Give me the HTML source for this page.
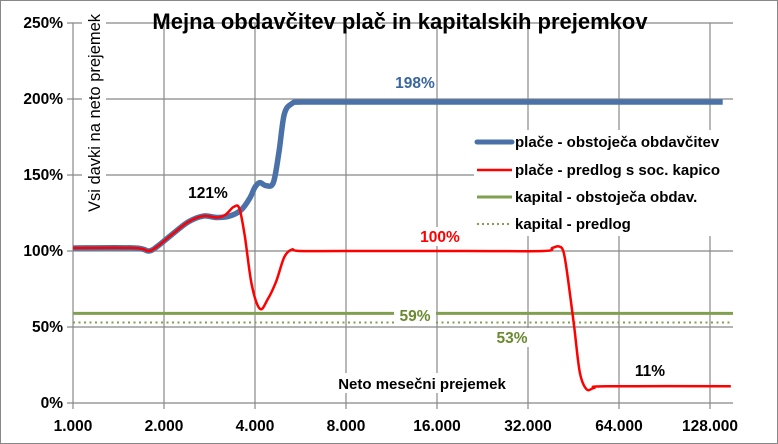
<!DOCTYPE html>
<html><head><meta charset="utf-8"><style>
body{margin:0;background:#fff;}
svg{display:block;font-family:"Liberation Sans",Arial,sans-serif;font-weight:bold;}
</style></head><body>
<svg width="778" height="444" viewBox="0 0 778 444">
<rect x="0.5" y="0.5" width="777" height="443" fill="#fff" stroke="#888"/>
<g id="grid"></g>
<g id="series"></g>
<g id="labels"></g>
<text x="400" y="29" text-anchor="middle" font-size="22" fill="#000">Mejna obdavčitev plač in kapitalskih prejemkov</text>
<rect x="82" y="6" width="24" height="214" fill="#fff"/>
<text transform="translate(100,113) rotate(-90)" text-anchor="middle" font-size="16.5" font-weight="normal" fill="#000">Vsi davki na neto prejemek</text>
<rect x="326" y="373" width="192" height="20" fill="#fff"/>
<text x="422" y="389" text-anchor="middle" font-size="15" fill="#000">Neto mesečni prejemek</text>
<g>
<rect x="474" y="130" width="298" height="106" fill="#fff"/>
<line x1="477" y1="142" x2="512" y2="142" stroke="#4a72a8" stroke-width="5" stroke-linecap="round"/>
<text x="515" y="147" font-size="15">plače - obstoječa obdavčitev</text>
<line x1="477" y1="170" x2="512" y2="170" stroke="#f00" stroke-width="2.5"/>
<text x="515" y="175" font-size="15">plače - predlog s soc. kapico</text>
<line x1="477" y1="197" x2="512" y2="197" stroke="#80a050" stroke-width="3"/>
<text x="515" y="202" font-size="15">kapital - obstoječa obdav.</text>
<line x1="477" y1="224" x2="512" y2="224" stroke="#80a050" stroke-width="2" stroke-dasharray="2,3"/>
<text x="515" y="229" font-size="15">kapital - predlog</text>
</g>
</svg>
<script>
const xTicks=[1000,2000,4000,8000,16000,32000,64000,128000];
const xTickLabels=["1.000","2.000","4.000","8.000","16.000","32.000","64.000","128.000"];
const yTicks=[0,50,100,150,200,250];
const yTickLabels=["0%","50%","100%","150%","200%","250%"];
const blueX=[1000,1600,1780,1900,2100,2400,2700,3000,3300,3600,3850,4000,4150,4350,4600,4800,5000,5300,5700,8000,32000,141000];
const blueY=[102,102,100,103,110,119,123,122,123,127,135,142,145,143,145,165,190,197,198,198,198,198];
const redX=[1000,1600,1780,1900,2100,2400,2700,3000,3200,3400,3550,3700,3900,4150,4400,4700,5000,5300,5600,8000,20000,36000,38500,40500,42000,43500,45500,47500,50000,53000,58000,150000];
const redY=[102,102,100,103,110,119,123,122,124,129,128,110,78,62,68,80,96,101,100,100,100,100,102,103,99,80,50,20,9,10,11,11];
const kapObst=[59], kapPredlog=[53];
const ns="http://www.w3.org/2000/svg";
const L=73,R=733,T=23,B=403,pxOct=91;
const xs=v=>L+Math.log2(v/1000)*pxOct;
const ys=v=>B-v*(B-T)/250;
function mk(tag,attrs,parent){const e=document.createElementNS(ns,tag);for(const k in attrs)e.setAttribute(k,attrs[k]);parent.appendChild(e);return e;}
const grid=document.getElementById('grid'),ser=document.getElementById('series'),lab=document.getElementById('labels');
yTicks.forEach((t,i)=>{
 const g=mk('line',{x1:L-6,x2:R,y1:ys(t),y2:ys(t),stroke:'#888','stroke-width':1.2},grid);
 
 
 const tx=mk('text',{x:L-10,y:ys(t)+5,'text-anchor':'end','font-size':15.5},grid);tx.textContent=yTickLabels[i];
 
 
});
xTicks.forEach((t,i)=>{
 const g=mk('line',{x1:xs(t),x2:xs(t),y1:T,y2:B+6,stroke:'#888','stroke-width':1.2},grid);
 
 
 const tx=mk('text',{x:xs(t),y:431,'text-anchor':'middle','font-size':15.5},grid);tx.textContent=xTickLabels[i];
 
 
});
function path(X,Y){
 const p=X.map((x,i)=>[xs(x),ys(Y[i])]);
 let d=`M${p[0][0]},${p[0][1]}`;
 for(let i=0;i<p.length-1;i++){const p0=p[Math.max(0,i-1)],p1=p[i],p2=p[i+1],p3=p[Math.min(p.length-1,i+2)];
  const c1=[p1[0]+(p2[0]-p0[0])/6,p1[1]+(p2[1]-p0[1])/6],c2=[p2[0]-(p3[0]-p1[0])/6,p2[1]-(p3[1]-p1[1])/6];
  d+=`C${c1[0]},${c1[1]} ${c2[0]},${c2[1]} ${p2[0]},${p2[1]}`;}
 return d;}
let e;
e=mk('line',{x1:L,x2:R,y1:ys(kapObst[0]),y2:ys(kapObst[0]),stroke:'#80a050','stroke-width':3},ser);


e=mk('line',{x1:L,x2:R,y1:ys(kapPredlog[0]),y2:ys(kapPredlog[0]),stroke:'#80a050','stroke-width':2,'stroke-dasharray':'2,3.5'},ser);


e=mk('path',{d:path(blueX,blueY),fill:'none',stroke:'#4a72a8','stroke-width':5.5,'stroke-linejoin':'round'},ser);


e=mk('path',{d:path(redX,redY),fill:'none',stroke:'#f00','stroke-width':2.5,'stroke-linejoin':'round'},ser);


const anns=[["198%",415,88,'#3a66a0'],["121%",208,198,'#000'],["100%",440,242,'#f00'],["59%",415,321,'#6a8a30'],["53%",512,343,'#6a8a30'],["11%",650,376,'#000']];
anns.forEach(a=>{
 const bg=mk('rect',{x:a[1]-21,y:a[2]-15,width:42,height:19,fill:'#fff'},lab);
 
 
 const t=mk('text',{x:a[1],y:a[2],'text-anchor':'middle','font-size':15.5,fill:a[3]},lab);t.textContent=a[0];
 
 
});
</script>
</body></html>
